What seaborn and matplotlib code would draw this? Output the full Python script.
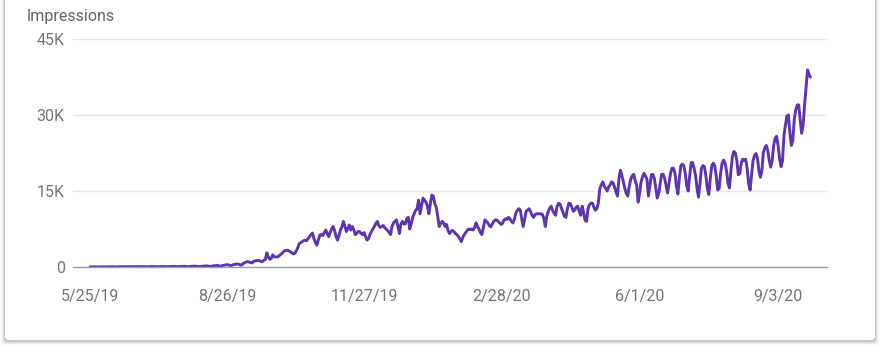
import matplotlib
matplotlib.use("Agg")
import matplotlib.pyplot as plt
import matplotlib.dates as mdates
from matplotlib.patches import FancyBboxPatch
from matplotlib.transforms import IdentityTransform
import seaborn as sns
import pandas as pd
import numpy as np

# ---------------- data (daily impressions, in thousands) ----------------
START_DATE = "2019-05-25"

summer_2019 = [
    0.02, 0.03, 0.03, 0.01, 0.01, 0.02, 0.03,
    0.03, 0.03, 0.04, 0.02, 0.02, 0.03, 0.04,
    0.04, 0.05, 0.04, 0.02, 0.02, 0.04, 0.05,
    0.05, 0.06, 0.05, 0.03, 0.03, 0.05, 0.06,
    0.06, 0.07, 0.06, 0.04, 0.03, 0.06, 0.07,
    0.07, 0.08, 0.07, 0.04, 0.04, 0.07, 0.08,
    0.08, 0.09, 0.08, 0.05, 0.05, 0.08, 0.09,
    0.09, 0.10, 0.09, 0.06, 0.05, 0.09, 0.10,
    0.10, 0.12, 0.10, 0.07, 0.06, 0.10, 0.12,
    0.12, 0.14, 0.12, 0.08, 0.07, 0.12, 0.14,
    0.15, 0.17, 0.15, 0.10, 0.09, 0.12, 0.15, 0.18,
    0.20, 0.22, 0.20, 0.14, 0.12, 0.20, 0.24,
    0.28, 0.30, 0.28, 0.20, 0.18, 0.30, 0.35,
]
autumn_2019 = [
    0.40, 0.45, 0.42, 0.30, 0.28, 0.45, 0.50,
    0.55, 0.60, 0.55, 0.40, 0.40, 0.70, 0.85,
    1.00, 1.05, 1.00, 0.85, 0.80, 1.10, 1.20,
    1.25, 1.30, 1.25, 1.10, 1.05, 1.35, 1.50,
    2.80, 2.00, 1.50, 1.70, 2.40, 2.00, 2.00,
    2.00, 2.10, 2.40, 2.60, 2.90, 3.20, 3.30,
    3.30, 3.20, 3.00, 2.80, 2.60, 2.70, 3.20, 3.80,
    4.60, 4.80, 5.00, 5.20, 5.30, 5.20, 5.60,
    6.00, 6.40, 6.70, 5.60, 4.80, 4.30, 5.40,
    6.30, 6.40, 6.20, 6.80, 7.30, 6.60, 6.00,
    6.80, 7.50, 8.00, 7.20, 6.00, 5.30, 6.20,
    7.30, 8.00, 9.00, 8.00, 7.00, 7.60, 8.30,
    7.30, 8.00, 7.40, 6.40, 6.60, 7.00, 7.00,
]
winter_2020 = [
    6.60, 6.40, 6.80, 6.00, 5.30, 5.60, 6.40,
    7.00, 7.50, 8.00, 8.60, 9.00, 8.20, 7.80,
    8.00, 8.20, 7.80, 7.50, 7.20, 6.80, 6.40,
    8.00, 8.70, 9.00, 9.30, 8.00, 6.60, 8.50,
    9.00, 8.50, 8.50, 9.50, 9.80, 7.50, 8.50,
    9.80, 10.5, 11.2, 11.5, 13.2, 10.5, 12.0,
    13.6, 13.2, 12.8, 12.0, 10.5, 12.5, 14.2,
    14.0, 12.5, 11.8, 10.0, 8.00, 8.60, 9.00,
    8.70, 8.00, 8.40, 7.20, 6.60, 7.00, 7.20,
    7.00, 6.60, 6.40, 6.00, 5.60, 5.00, 5.80,
    6.40, 6.80, 7.20, 7.50, 7.40, 7.50, 7.30,
    7.80, 8.70, 8.00, 7.50, 6.80, 6.40, 7.80,
    9.30, 9.00, 8.70, 8.20, 7.90, 8.50, 9.00, 9.30,
]
spring_2020 = [
    9.30, 9.00, 8.70, 8.40, 8.60, 9.30, 9.50,
    9.40, 9.80, 9.50, 9.00, 8.70, 9.40, 10.6,
    11.2, 11.5, 11.3, 9.50, 8.00, 9.50, 11.0,
    11.2, 11.5, 11.0, 10.2, 9.80, 10.3, 10.5,
    10.5, 10.5, 10.5, 10.4, 9.60, 8.00, 10.0,
    11.0, 11.6, 12.0, 11.2, 10.6, 10.2, 12.0,
    12.6, 12.4, 11.6, 10.8, 10.0, 9.80, 11.5,
    12.6, 12.5, 11.8, 11.0, 11.2, 11.8, 12.0,
    11.0, 10.2, 12.0, 10.8, 9.20, 9.00, 11.5,
    12.3, 12.6, 12.6, 11.8, 11.2, 11.5, 12.6,
    15.5, 16.2, 16.8, 16.0, 15.5, 15.0, 15.8,
    16.2, 16.8, 16.6, 15.8, 14.8, 14.0, 17.5,
    19.1, 18.0, 16.8, 15.5, 14.5, 14.0, 16.0,
]
summer_2020 = [
    17.3, 18.0, 18.3, 17.0, 16.2, 12.8, 14.5,
    16.8, 17.8, 18.5, 18.0, 17.3, 14.0, 16.0,
    18.2, 18.3, 17.5, 15.5, 13.6, 14.5, 16.5,
    18.3, 18.3, 17.5, 16.0, 14.6, 16.5, 18.5,
    19.5, 19.5, 18.5, 16.0, 14.4, 17.5, 20.0,
    20.3, 20.0, 18.5, 16.0, 15.0, 18.0, 20.6,
    20.6, 19.5, 18.0, 15.5, 13.8, 16.5, 19.5,
    20.0, 19.8, 18.0, 15.5, 14.3, 17.5, 20.0,
    20.5, 20.0, 18.0, 15.2, 15.5, 18.5, 20.5,
    21.1, 20.5, 19.0, 16.5, 15.6, 19.0, 21.8,
    22.8, 22.5, 21.0, 18.2, 18.5, 20.5, 21.3,
    21.0, 21.3, 19.5, 16.5, 15.2, 18.0, 21.0,
    22.0, 22.4, 21.5, 19.0, 17.7, 19.0, 22.6,
]
september_2020 = [
    23.5, 24.0, 23.0, 21.0, 19.7, 21.0, 24.0,
    25.4, 25.8, 24.0, 21.5, 19.8, 21.0, 26.0,
    28.0, 29.8, 30.0, 26.5, 24.0, 25.0, 29.2,
    31.0, 32.0, 32.0, 29.0, 26.4, 28.0, 32.0,
    35.5, 38.9, 38.0, 37.5,
]

tick_dates = ["2019-05-25", "2019-08-26", "2019-11-27",
              "2020-02-28", "2020-06-01", "2020-09-03"]
tick_labels = ["5/25/19", "8/26/19", "11/27/19", "2/28/20", "6/1/20", "9/3/20"]
y_ticks = [0, 15000, 30000, 45000]
y_tick_labels = ["0", "15K", "30K", "45K"]

impressions_k = (summer_2019 + autumn_2019 + winter_2020 +
                 spring_2020 + summer_2020 + september_2020)
dates = pd.date_range(START_DATE, periods=len(impressions_k), freq="D")
df = pd.DataFrame({"date": dates,
                   "impressions": np.array(impressions_k) * 1000.0})

# ---------------- figure ----------------
sns.set_theme(style="white")
plt.rcParams["font.family"] = ["Roboto", "DejaVu Sans"]

W, H = 881, 346
fig = plt.figure(figsize=(W / 100, H / 100), dpi=100)
fig.patch.set_facecolor("white")

# card with soft shadow (pixel coordinates, origin bottom-left)
for s, a in [(4, 0.03), (3, 0.04), (2, 0.06), (1, 0.10)]:
    sh = FancyBboxPatch((5 - s, 6 - s - 1), 870 + 2 * s, 400,
                        boxstyle="round,pad=0,rounding_size=4",
                        transform=IdentityTransform(), facecolor="black",
                        edgecolor="none", alpha=a, zorder=-10)
    fig.patches.append(sh)
card = FancyBboxPatch((5, 6), 870, 400,
                      boxstyle="round,pad=0,rounding_size=4",
                      transform=IdentityTransform(), facecolor="white",
                      edgecolor="none", zorder=-9)
fig.patches.append(card)

ax = fig.add_axes([73 / W, (H - 267) / H, (827 - 73) / W, (267 - 39) / H])
ax.set_facecolor("none")

sns.lineplot(data=df, x="date", y="impressions", ax=ax,
             color="#5e35b1", linewidth=2.1, legend=False)

start_num = mdates.date2num(pd.Timestamp(START_DATE))
px_per_day = 1.473
ax.set_xlim(start_num - (90 - 73) / px_per_day,
            start_num + (len(impressions_k) - 1) + 16.5 / px_per_day)
ax.set_ylim(0, 45000)

ax.set_xticks(pd.to_datetime(tick_dates))
ax.set_xticklabels(tick_labels)
ax.set_yticks(y_ticks)
ax.set_yticklabels(y_tick_labels)

ax.grid(axis="y", color="#e8e8e8", linewidth=1.0)
ax.grid(axis="x", visible=False)
for side in ["top", "right", "left"]:
    ax.spines[side].set_visible(False)
ax.spines["bottom"].set_color("#9e9e9e")
ax.spines["bottom"].set_linewidth(1.0)

ax.tick_params(axis="both", length=0, labelsize=11.5, labelcolor="#757575")
ax.tick_params(axis="y", pad=6)
ax.tick_params(axis="x", pad=16)
ax.set_xlabel("")
ax.set_ylabel("")

fig.text(27 / W, 1 - 16 / H, "Impressions", ha="left", va="center",
         fontsize=11.5, color="#5f6368")

fig.savefig("out.png", dpi=100)
